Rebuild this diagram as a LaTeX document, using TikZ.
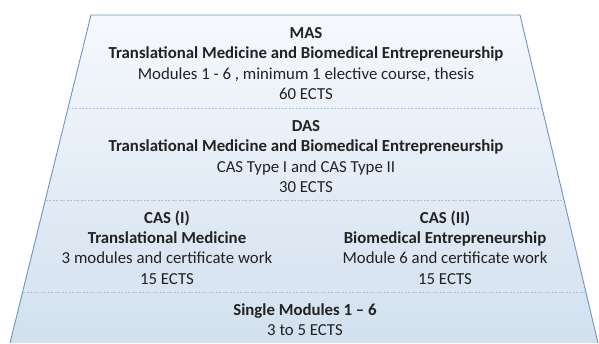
\documentclass[tikz,border=0pt]{standalone}
\usepackage{fontspec}
\setmainfont{Carlito}
\definecolor{edge}{HTML}{6F93C4}
\definecolor{sep}{HTML}{A9C2E0}
\definecolor{topc}{HTML}{F6F9FD}
\definecolor{botc}{HTML}{D2E0EF}
\definecolor{txt}{HTML}{222222}
\begin{document}
\begin{tikzpicture}[x=1pt,y=-1pt,
  blocktext/.style={align=center,text=txt,font=\fontsize{16.8}{20.3}\selectfont,inner sep=0pt},
  sepline/.style={draw=sep,dashed,dash pattern=on 2pt off 1.5pt,line width=0.8pt},
  border/.style={draw=edge,line width=0.9pt}]
\useasboundingbox (0,0) rectangle (599,343);
\coordinate (tl) at (91,15);
\coordinate (tr) at (520,15);
\coordinate (bl) at (10,343);
\coordinate (br) at (598,343);
\shade[top color=topc,bottom color=botc] (tl) -- (tr) -- (br) -- (bl) -- cycle;
\draw[border] (bl) -- (tl) -- (tr) -- (br);
\coordinate (s1l) at (68,108);
\coordinate (s1r) at (542,108);
\coordinate (s2l) at (45.5,200);
\coordinate (s2r) at (564,200);
\coordinate (s3l) at (23,292);
\coordinate (s3r) at (586,292);
\draw[sepline] (s1l) -- (s1r);
\draw[sepline] (s2l) -- (s2r);
\draw[sepline] (s3l) -- (s3r);
\node[blocktext] (mas) at (306,63.5) {\textbf{MAS}\\\textbf{Translational Medicine and Biomedical Entrepreneurship}\\Modules 1 - 6 , minimum 1 elective course, thesis\\60 ECTS};
\node[blocktext] (das) at (306,156.5) {\textbf{DAS}\\\textbf{Translational Medicine and Biomedical Entrepreneurship}\\CAS Type I and CAS Type II\\30 ECTS};
\node[blocktext] (cas1) at (167,247.5) {\textbf{CAS (I)}\\\textbf{Translational Medicine}\\3 modules and certificate work\\15 ECTS};
\node[blocktext] (cas2) at (445,247.5) {\textbf{CAS (II)}\\\textbf{Biomedical Entrepreneurship}\\Module 6 and certificate work\\15 ECTS};
\node[blocktext] (single) at (305,320) {\textbf{Single Modules 1 – 6}\\3 to 5 ECTS};
\end{tikzpicture}
\end{document}
